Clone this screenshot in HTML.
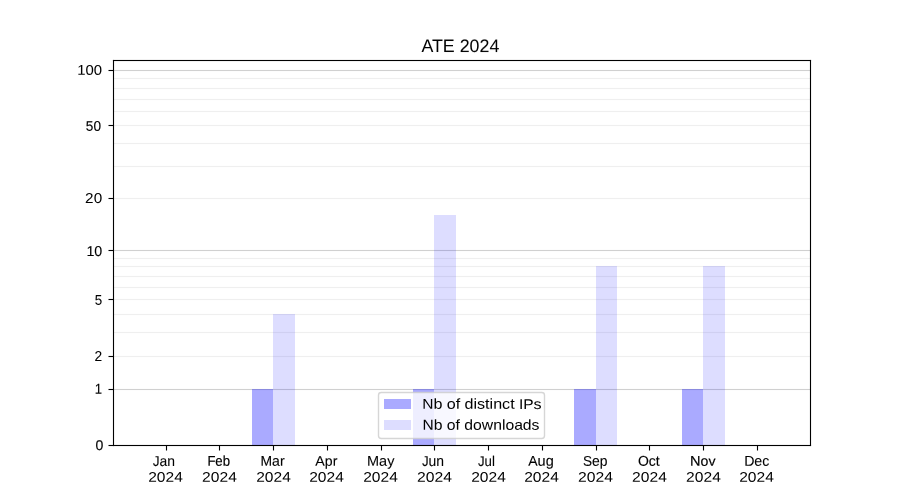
<!DOCTYPE html>
<html><head><meta charset="utf-8"><title>ATE 2024</title><style>
html,body{margin:0;padding:0;background:#fff;width:900px;height:500px;overflow:hidden}
svg{display:block}
text{font-family:"Liberation Sans",sans-serif;fill:#000}
.t{filter:grayscale(1);text-rendering:geometricPrecision}
.t text{stroke:#000}
</style></head><body>
<svg width="900" height="500" viewBox="0 0 900 500">
<rect width="900" height="500" fill="#fff"/>
<g shape-rendering="crispEdges" fill="#b0b0b0">
<rect x="113" y="70" width="698" height="1" fill-opacity="0.6"/><rect x="113" y="69" width="698" height="1" fill-opacity="0.033"/><rect x="113" y="71" width="698" height="1" fill-opacity="0.033"/>
<rect x="113" y="250" width="698" height="1" fill-opacity="0.6"/><rect x="113" y="249" width="698" height="1" fill-opacity="0.033"/><rect x="113" y="251" width="698" height="1" fill-opacity="0.033"/>
<rect x="113" y="389" width="698" height="1" fill-opacity="0.6"/><rect x="113" y="388" width="698" height="1" fill-opacity="0.033"/><rect x="113" y="390" width="698" height="1" fill-opacity="0.033"/>
<rect x="113" y="78" width="698" height="1" fill-opacity="0.2"/><rect x="113" y="77" width="698" height="1" fill-opacity="0.011"/><rect x="113" y="79" width="698" height="1" fill-opacity="0.011"/>
<rect x="113" y="88" width="698" height="1" fill-opacity="0.2"/><rect x="113" y="87" width="698" height="1" fill-opacity="0.011"/><rect x="113" y="89" width="698" height="1" fill-opacity="0.011"/>
<rect x="113" y="99" width="698" height="1" fill-opacity="0.2"/><rect x="113" y="98" width="698" height="1" fill-opacity="0.011"/><rect x="113" y="100" width="698" height="1" fill-opacity="0.011"/>
<rect x="113" y="111" width="698" height="1" fill-opacity="0.2"/><rect x="113" y="110" width="698" height="1" fill-opacity="0.011"/><rect x="113" y="112" width="698" height="1" fill-opacity="0.011"/>
<rect x="113" y="125" width="698" height="1" fill-opacity="0.2"/><rect x="113" y="124" width="698" height="1" fill-opacity="0.011"/><rect x="113" y="126" width="698" height="1" fill-opacity="0.011"/>
<rect x="113" y="143" width="698" height="1" fill-opacity="0.2"/><rect x="113" y="142" width="698" height="1" fill-opacity="0.011"/><rect x="113" y="144" width="698" height="1" fill-opacity="0.011"/>
<rect x="113" y="166" width="698" height="1" fill-opacity="0.2"/><rect x="113" y="165" width="698" height="1" fill-opacity="0.011"/><rect x="113" y="167" width="698" height="1" fill-opacity="0.011"/>
<rect x="113" y="198" width="698" height="1" fill-opacity="0.2"/><rect x="113" y="197" width="698" height="1" fill-opacity="0.011"/><rect x="113" y="199" width="698" height="1" fill-opacity="0.011"/>
<rect x="113" y="258" width="698" height="1" fill-opacity="0.2"/><rect x="113" y="257" width="698" height="1" fill-opacity="0.011"/><rect x="113" y="259" width="698" height="1" fill-opacity="0.011"/>
<rect x="113" y="266" width="698" height="1" fill-opacity="0.2"/><rect x="113" y="265" width="698" height="1" fill-opacity="0.011"/><rect x="113" y="267" width="698" height="1" fill-opacity="0.011"/>
<rect x="113" y="276" width="698" height="1" fill-opacity="0.2"/><rect x="113" y="275" width="698" height="1" fill-opacity="0.011"/><rect x="113" y="277" width="698" height="1" fill-opacity="0.011"/>
<rect x="113" y="287" width="698" height="1" fill-opacity="0.2"/><rect x="113" y="286" width="698" height="1" fill-opacity="0.011"/><rect x="113" y="288" width="698" height="1" fill-opacity="0.011"/>
<rect x="113" y="299" width="698" height="1" fill-opacity="0.2"/><rect x="113" y="298" width="698" height="1" fill-opacity="0.011"/><rect x="113" y="300" width="698" height="1" fill-opacity="0.011"/>
<rect x="113" y="314" width="698" height="1" fill-opacity="0.2"/><rect x="113" y="313" width="698" height="1" fill-opacity="0.011"/><rect x="113" y="315" width="698" height="1" fill-opacity="0.011"/>
<rect x="113" y="332" width="698" height="1" fill-opacity="0.2"/><rect x="113" y="331" width="698" height="1" fill-opacity="0.011"/><rect x="113" y="333" width="698" height="1" fill-opacity="0.011"/>
<rect x="113" y="356" width="698" height="1" fill-opacity="0.2"/><rect x="113" y="355" width="698" height="1" fill-opacity="0.011"/><rect x="113" y="357" width="698" height="1" fill-opacity="0.011"/>
</g>
<g shape-rendering="crispEdges" fill="#00f">
<rect x="252" y="389" width="21" height="56" fill-opacity="0.3333"/>
<rect x="273" y="314" width="22" height="131" fill-opacity="0.1333"/>
<rect x="413" y="389" width="21" height="56" fill-opacity="0.3333"/>
<rect x="434" y="215" width="22" height="230" fill-opacity="0.1333"/>
<rect x="574" y="389" width="22" height="56" fill-opacity="0.3333"/>
<rect x="596" y="266" width="21" height="179" fill-opacity="0.1333"/>
<rect x="682" y="389" width="21" height="56" fill-opacity="0.3333"/>
<rect x="703" y="266" width="22" height="179" fill-opacity="0.1333"/>
</g>
<g shape-rendering="crispEdges" fill="#000">
<rect x="112" y="59" width="1" height="1" fill-opacity="0.008"/><rect x="113" y="59" width="1" height="1" fill-opacity="0.106"/><rect x="114" y="59" width="1" height="1" fill-opacity="0.059"/><rect x="115" y="59" width="694" height="1" fill-opacity="0.055"/><rect x="809" y="59" width="1" height="1" fill-opacity="0.059"/><rect x="810" y="59" width="1" height="1" fill-opacity="0.106"/><rect x="811" y="59" width="1" height="1" fill-opacity="0.008"/><rect x="112" y="60" width="1" height="1" fill-opacity="0.106"/><rect x="113" y="60" width="698" height="1"/><rect x="811" y="60" width="1" height="1" fill-opacity="0.106"/><rect x="112" y="61" width="1" height="1" fill-opacity="0.059"/><rect x="114" y="61" width="1" height="1" fill-opacity="0.106"/><rect x="115" y="61" width="694" height="1" fill-opacity="0.055"/><rect x="809" y="61" width="1" height="1" fill-opacity="0.106"/><rect x="811" y="61" width="1" height="1" fill-opacity="0.059"/><rect x="112" y="62" width="1" height="7" fill-opacity="0.055"/><rect x="108" y="69" width="1" height="1" fill-opacity="0.027"/><rect x="109" y="69" width="3" height="1" fill-opacity="0.055"/><rect x="112" y="69" width="1" height="1" fill-opacity="0.106"/><rect x="113" y="61" width="1" height="9"/><rect x="108" y="70" width="1" height="1" fill-opacity="0.502"/><rect x="109" y="70" width="5" height="1"/><rect x="108" y="71" width="1" height="1" fill-opacity="0.027"/><rect x="109" y="71" width="3" height="1" fill-opacity="0.055"/><rect x="112" y="71" width="1" height="1" fill-opacity="0.106"/><rect x="112" y="72" width="1" height="52" fill-opacity="0.055"/><rect x="108" y="124" width="1" height="1" fill-opacity="0.027"/><rect x="109" y="124" width="3" height="1" fill-opacity="0.055"/><rect x="112" y="124" width="1" height="1" fill-opacity="0.106"/><rect x="113" y="71" width="1" height="54"/><rect x="108" y="125" width="1" height="1" fill-opacity="0.502"/><rect x="109" y="125" width="5" height="1"/><rect x="108" y="126" width="1" height="1" fill-opacity="0.027"/><rect x="109" y="126" width="3" height="1" fill-opacity="0.055"/><rect x="112" y="126" width="1" height="1" fill-opacity="0.106"/><rect x="112" y="127" width="1" height="70" fill-opacity="0.055"/><rect x="108" y="197" width="1" height="1" fill-opacity="0.027"/><rect x="109" y="197" width="3" height="1" fill-opacity="0.055"/><rect x="112" y="197" width="1" height="1" fill-opacity="0.106"/><rect x="113" y="126" width="1" height="72"/><rect x="108" y="198" width="1" height="1" fill-opacity="0.502"/><rect x="109" y="198" width="5" height="1"/><rect x="108" y="199" width="1" height="1" fill-opacity="0.027"/><rect x="109" y="199" width="3" height="1" fill-opacity="0.055"/><rect x="112" y="199" width="1" height="1" fill-opacity="0.106"/><rect x="112" y="200" width="1" height="49" fill-opacity="0.055"/><rect x="108" y="249" width="1" height="1" fill-opacity="0.027"/><rect x="109" y="249" width="3" height="1" fill-opacity="0.055"/><rect x="112" y="249" width="1" height="1" fill-opacity="0.106"/><rect x="113" y="199" width="1" height="51"/><rect x="108" y="250" width="1" height="1" fill-opacity="0.502"/><rect x="109" y="250" width="5" height="1"/><rect x="108" y="251" width="1" height="1" fill-opacity="0.027"/><rect x="109" y="251" width="3" height="1" fill-opacity="0.055"/><rect x="112" y="251" width="1" height="1" fill-opacity="0.106"/><rect x="112" y="252" width="1" height="46" fill-opacity="0.055"/><rect x="108" y="298" width="1" height="1" fill-opacity="0.027"/><rect x="109" y="298" width="3" height="1" fill-opacity="0.055"/><rect x="112" y="298" width="1" height="1" fill-opacity="0.106"/><rect x="113" y="251" width="1" height="48"/><rect x="108" y="299" width="1" height="1" fill-opacity="0.502"/><rect x="109" y="299" width="5" height="1"/><rect x="108" y="300" width="1" height="1" fill-opacity="0.027"/><rect x="109" y="300" width="3" height="1" fill-opacity="0.055"/><rect x="112" y="300" width="1" height="1" fill-opacity="0.106"/><rect x="112" y="301" width="1" height="54" fill-opacity="0.055"/><rect x="108" y="355" width="1" height="1" fill-opacity="0.027"/><rect x="109" y="355" width="3" height="1" fill-opacity="0.055"/><rect x="112" y="355" width="1" height="1" fill-opacity="0.106"/><rect x="113" y="300" width="1" height="56"/><rect x="108" y="356" width="1" height="1" fill-opacity="0.502"/><rect x="109" y="356" width="5" height="1"/><rect x="108" y="357" width="1" height="1" fill-opacity="0.027"/><rect x="109" y="357" width="3" height="1" fill-opacity="0.055"/><rect x="112" y="357" width="1" height="1" fill-opacity="0.106"/><rect x="112" y="358" width="1" height="30" fill-opacity="0.055"/><rect x="108" y="388" width="1" height="1" fill-opacity="0.027"/><rect x="109" y="388" width="3" height="1" fill-opacity="0.055"/><rect x="112" y="388" width="1" height="1" fill-opacity="0.106"/><rect x="113" y="357" width="1" height="32"/><rect x="108" y="389" width="1" height="1" fill-opacity="0.502"/><rect x="109" y="389" width="5" height="1"/><rect x="108" y="390" width="1" height="1" fill-opacity="0.027"/><rect x="109" y="390" width="3" height="1" fill-opacity="0.055"/><rect x="112" y="390" width="1" height="1" fill-opacity="0.106"/><rect x="112" y="391" width="1" height="53" fill-opacity="0.055"/><rect x="114" y="62" width="1" height="382" fill-opacity="0.055"/><rect x="809" y="62" width="1" height="382" fill-opacity="0.055"/><rect x="811" y="62" width="1" height="382" fill-opacity="0.055"/><rect x="108" y="444" width="1" height="1" fill-opacity="0.027"/><rect x="109" y="444" width="3" height="1" fill-opacity="0.055"/><rect x="112" y="444" width="1" height="1" fill-opacity="0.110"/><rect x="113" y="390" width="1" height="55"/><rect x="114" y="444" width="1" height="1" fill-opacity="0.106"/><rect x="115" y="444" width="694" height="1" fill-opacity="0.055"/><rect x="809" y="444" width="1" height="1" fill-opacity="0.106"/><rect x="810" y="61" width="1" height="384"/><rect x="811" y="444" width="1" height="1" fill-opacity="0.059"/><rect x="108" y="445" width="1" height="1" fill-opacity="0.502"/><rect x="109" y="445" width="702" height="1"/><rect x="811" y="445" width="1" height="1" fill-opacity="0.106"/><rect x="108" y="446" width="1" height="1" fill-opacity="0.027"/><rect x="109" y="446" width="3" height="1" fill-opacity="0.055"/><rect x="112" y="446" width="1" height="1" fill-opacity="0.059"/><rect x="113" y="446" width="1" height="1" fill-opacity="0.133"/><rect x="114" y="446" width="1" height="1" fill-opacity="0.059"/><rect x="115" y="446" width="50" height="1" fill-opacity="0.055"/><rect x="165" y="446" width="1" height="1" fill-opacity="0.106"/><rect x="167" y="446" width="1" height="1" fill-opacity="0.106"/><rect x="168" y="446" width="50" height="1" fill-opacity="0.055"/><rect x="218" y="446" width="1" height="1" fill-opacity="0.106"/><rect x="220" y="446" width="1" height="1" fill-opacity="0.106"/><rect x="221" y="446" width="51" height="1" fill-opacity="0.055"/><rect x="272" y="446" width="1" height="1" fill-opacity="0.106"/><rect x="274" y="446" width="1" height="1" fill-opacity="0.106"/><rect x="275" y="446" width="51" height="1" fill-opacity="0.055"/><rect x="326" y="446" width="1" height="1" fill-opacity="0.106"/><rect x="328" y="446" width="1" height="1" fill-opacity="0.106"/><rect x="329" y="446" width="51" height="1" fill-opacity="0.055"/><rect x="380" y="446" width="1" height="1" fill-opacity="0.106"/><rect x="382" y="446" width="1" height="1" fill-opacity="0.106"/><rect x="383" y="446" width="50" height="1" fill-opacity="0.055"/><rect x="433" y="446" width="1" height="1" fill-opacity="0.106"/><rect x="435" y="446" width="1" height="1" fill-opacity="0.106"/><rect x="436" y="446" width="51" height="1" fill-opacity="0.055"/><rect x="487" y="446" width="1" height="1" fill-opacity="0.106"/><rect x="489" y="446" width="1" height="1" fill-opacity="0.106"/><rect x="490" y="446" width="51" height="1" fill-opacity="0.055"/><rect x="541" y="446" width="1" height="1" fill-opacity="0.106"/><rect x="543" y="446" width="1" height="1" fill-opacity="0.106"/><rect x="544" y="446" width="51" height="1" fill-opacity="0.055"/><rect x="595" y="446" width="1" height="1" fill-opacity="0.106"/><rect x="597" y="446" width="1" height="1" fill-opacity="0.106"/><rect x="598" y="446" width="50" height="1" fill-opacity="0.055"/><rect x="648" y="446" width="1" height="1" fill-opacity="0.106"/><rect x="650" y="446" width="1" height="1" fill-opacity="0.106"/><rect x="651" y="446" width="51" height="1" fill-opacity="0.055"/><rect x="702" y="446" width="1" height="1" fill-opacity="0.106"/><rect x="704" y="446" width="1" height="1" fill-opacity="0.106"/><rect x="705" y="446" width="51" height="1" fill-opacity="0.055"/><rect x="756" y="446" width="1" height="1" fill-opacity="0.106"/><rect x="758" y="446" width="1" height="1" fill-opacity="0.106"/><rect x="759" y="446" width="50" height="1" fill-opacity="0.055"/><rect x="809" y="446" width="1" height="1" fill-opacity="0.059"/><rect x="810" y="446" width="1" height="1" fill-opacity="0.106"/><rect x="811" y="446" width="1" height="1" fill-opacity="0.008"/><rect x="165" y="447" width="1" height="3" fill-opacity="0.055"/><rect x="166" y="446" width="1" height="4"/><rect x="167" y="447" width="1" height="3" fill-opacity="0.055"/><rect x="218" y="447" width="1" height="3" fill-opacity="0.055"/><rect x="219" y="446" width="1" height="4"/><rect x="220" y="447" width="1" height="3" fill-opacity="0.055"/><rect x="272" y="447" width="1" height="3" fill-opacity="0.055"/><rect x="273" y="446" width="1" height="4"/><rect x="274" y="447" width="1" height="3" fill-opacity="0.055"/><rect x="326" y="447" width="1" height="3" fill-opacity="0.055"/><rect x="327" y="446" width="1" height="4"/><rect x="328" y="447" width="1" height="3" fill-opacity="0.055"/><rect x="380" y="447" width="1" height="3" fill-opacity="0.055"/><rect x="381" y="446" width="1" height="4"/><rect x="382" y="447" width="1" height="3" fill-opacity="0.055"/><rect x="433" y="447" width="1" height="3" fill-opacity="0.055"/><rect x="434" y="446" width="1" height="4"/><rect x="435" y="447" width="1" height="3" fill-opacity="0.055"/><rect x="487" y="447" width="1" height="3" fill-opacity="0.055"/><rect x="488" y="446" width="1" height="4"/><rect x="489" y="447" width="1" height="3" fill-opacity="0.055"/><rect x="541" y="447" width="1" height="3" fill-opacity="0.055"/><rect x="542" y="446" width="1" height="4"/><rect x="543" y="447" width="1" height="3" fill-opacity="0.055"/><rect x="595" y="447" width="1" height="3" fill-opacity="0.055"/><rect x="596" y="446" width="1" height="4"/><rect x="597" y="447" width="1" height="3" fill-opacity="0.055"/><rect x="648" y="447" width="1" height="3" fill-opacity="0.055"/><rect x="649" y="446" width="1" height="4"/><rect x="650" y="447" width="1" height="3" fill-opacity="0.055"/><rect x="702" y="447" width="1" height="3" fill-opacity="0.055"/><rect x="703" y="446" width="1" height="4"/><rect x="704" y="447" width="1" height="3" fill-opacity="0.055"/><rect x="756" y="447" width="1" height="3" fill-opacity="0.055"/><rect x="757" y="446" width="1" height="4"/><rect x="758" y="447" width="1" height="3" fill-opacity="0.055"/><rect x="165" y="450" width="1" height="1" fill-opacity="0.027"/><rect x="166" y="450" width="1" height="1" fill-opacity="0.502"/><rect x="167" y="450" width="1" height="1" fill-opacity="0.027"/><rect x="218" y="450" width="1" height="1" fill-opacity="0.027"/><rect x="219" y="450" width="1" height="1" fill-opacity="0.502"/><rect x="220" y="450" width="1" height="1" fill-opacity="0.027"/><rect x="272" y="450" width="1" height="1" fill-opacity="0.027"/><rect x="273" y="450" width="1" height="1" fill-opacity="0.502"/><rect x="274" y="450" width="1" height="1" fill-opacity="0.027"/><rect x="326" y="450" width="1" height="1" fill-opacity="0.027"/><rect x="327" y="450" width="1" height="1" fill-opacity="0.502"/><rect x="328" y="450" width="1" height="1" fill-opacity="0.027"/><rect x="380" y="450" width="1" height="1" fill-opacity="0.027"/><rect x="381" y="450" width="1" height="1" fill-opacity="0.502"/><rect x="382" y="450" width="1" height="1" fill-opacity="0.027"/><rect x="433" y="450" width="1" height="1" fill-opacity="0.027"/><rect x="434" y="450" width="1" height="1" fill-opacity="0.502"/><rect x="435" y="450" width="1" height="1" fill-opacity="0.027"/><rect x="487" y="450" width="1" height="1" fill-opacity="0.027"/><rect x="488" y="450" width="1" height="1" fill-opacity="0.502"/><rect x="489" y="450" width="1" height="1" fill-opacity="0.027"/><rect x="541" y="450" width="1" height="1" fill-opacity="0.027"/><rect x="542" y="450" width="1" height="1" fill-opacity="0.502"/><rect x="543" y="450" width="1" height="1" fill-opacity="0.027"/><rect x="595" y="450" width="1" height="1" fill-opacity="0.027"/><rect x="596" y="450" width="1" height="1" fill-opacity="0.502"/><rect x="597" y="450" width="1" height="1" fill-opacity="0.027"/><rect x="648" y="450" width="1" height="1" fill-opacity="0.027"/><rect x="649" y="450" width="1" height="1" fill-opacity="0.502"/><rect x="650" y="450" width="1" height="1" fill-opacity="0.027"/><rect x="702" y="450" width="1" height="1" fill-opacity="0.027"/><rect x="703" y="450" width="1" height="1" fill-opacity="0.502"/><rect x="704" y="450" width="1" height="1" fill-opacity="0.027"/><rect x="756" y="450" width="1" height="1" fill-opacity="0.027"/><rect x="757" y="450" width="1" height="1" fill-opacity="0.502"/><rect x="758" y="450" width="1" height="1" fill-opacity="0.027"/>
</g>
<rect x="378.5" y="392.5" width="166" height="46" rx="2.8" ry="2.8" fill="#fff" fill-opacity="0.8" stroke="#ccc" stroke-opacity="0.8" stroke-width="1.39"/>
<rect x="384" y="399" width="27" height="10" fill="#00f" fill-opacity="0.3333" shape-rendering="crispEdges"/>
<rect x="384" y="420" width="27" height="10" fill="#00f" fill-opacity="0.1333" shape-rendering="crispEdges"/>
<g class="t">
<text x="421.39" y="51.69" font-size="18.08" text-anchor="start" textLength="78.02" lengthAdjust="spacingAndGlyphs" transform="rotate(0.05 421.39 51.94)" stroke-width="0.009">ATE 2024</text>
<text x="77.23" y="74.84" font-size="14.06" text-anchor="start" textLength="24.79" lengthAdjust="spacingAndGlyphs" transform="rotate(0.05 77.23 75.09)" stroke-width="0.046">100</text>
<text x="85.86" y="130.74" font-size="14.01" text-anchor="start" textLength="15.15" lengthAdjust="spacingAndGlyphs" transform="rotate(0.05 85.86 130.99)" stroke-width="0.145">50</text>
<text x="85.13" y="202.93" font-size="14.41" text-anchor="start" textLength="17.02" lengthAdjust="spacingAndGlyphs" transform="rotate(0.05 85.13 203.18)" stroke-width="0.012">20</text>
<text x="86.45" y="255.88" font-size="14.29" text-anchor="start" textLength="15.88" lengthAdjust="spacingAndGlyphs" transform="rotate(0.05 86.45 256.13)" stroke-width="0.112">10</text>
<text x="94.70" y="304.72" font-size="14.09" text-anchor="start" textLength="7.46" lengthAdjust="spacingAndGlyphs" transform="rotate(0.05 94.70 304.97)" stroke-width="0.085">5</text>
<text x="94.51" y="360.98" font-size="14.34" text-anchor="start" textLength="7.65" lengthAdjust="spacingAndGlyphs" transform="rotate(0.05 94.51 361.23)" stroke-width="0.076">2</text>
<text x="94.66" y="393.70" font-size="14.34" text-anchor="start" textLength="7.29" lengthAdjust="spacingAndGlyphs" transform="rotate(0.05 94.66 393.95)" stroke-width="0.156">1</text>
<text x="95.47" y="449.93" font-size="14.15" text-anchor="start" textLength="7.84" lengthAdjust="spacingAndGlyphs" transform="rotate(0.05 95.47 450.18)" stroke-width="0.160">0</text>
<text x="152.64" y="466.12" font-size="14.26" text-anchor="start" textLength="22.33" lengthAdjust="spacingAndGlyphs" transform="rotate(0.05 152.64 466.37)" stroke-width="0.068">J<tspan font-size="14.47">an</tspan></text>
<text x="148.21" y="481.85" font-size="14.04" text-anchor="start" textLength="34.58" lengthAdjust="spacingAndGlyphs" transform="rotate(0.05 148.21 482.10)" stroke-width="0.014">2024</text>
<text x="207.39" y="465.79" font-size="14.15" text-anchor="start" textLength="22.60" lengthAdjust="spacingAndGlyphs" transform="rotate(0.05 207.39 466.04)" stroke-width="0.206">F<tspan font-size="14.32">eb</tspan></text>
<text x="202.13" y="481.84" font-size="14.01" text-anchor="start" textLength="34.69" lengthAdjust="spacingAndGlyphs" transform="rotate(0.05 202.13 482.09)" stroke-width="0.012">2024</text>
<text x="260.55" y="465.66" font-size="14.07" text-anchor="start" textLength="24.06" lengthAdjust="spacingAndGlyphs" transform="rotate(0.05 260.55 465.91)" stroke-width="0.127">M<tspan font-size="14.22">ar</tspan></text>
<text x="256.21" y="481.65" font-size="14.04" text-anchor="start" textLength="34.58" lengthAdjust="spacingAndGlyphs" transform="rotate(0.05 256.21 481.90)" stroke-width="0.014">2024</text>
<text x="315.36" y="465.74" font-size="14.01" text-anchor="start" textLength="22.03" lengthAdjust="spacingAndGlyphs" transform="rotate(0.05 315.36 465.99)" stroke-width="0.097">A<tspan font-size="13.91">pr</tspan></text>
<text x="309.21" y="481.65" font-size="14.04" text-anchor="start" textLength="34.58" lengthAdjust="spacingAndGlyphs" transform="rotate(0.05 309.21 481.90)" stroke-width="0.014">2024</text>
<text x="366.99" y="465.70" font-size="14.23" text-anchor="start" textLength="27.41" lengthAdjust="spacingAndGlyphs" transform="rotate(0.05 366.99 465.95)" stroke-width="0.100">May</text>
<text x="363.21" y="481.65" font-size="14.04" text-anchor="start" textLength="34.58" lengthAdjust="spacingAndGlyphs" transform="rotate(0.05 363.21 481.90)" stroke-width="0.014">2024</text>
<text x="421.95" y="466.01" font-size="14.24" text-anchor="start" textLength="22.15" lengthAdjust="spacingAndGlyphs" transform="rotate(0.05 421.95 466.26)" stroke-width="0.086">J<tspan font-size="14.91">un</tspan></text>
<text x="416.98" y="481.69" font-size="14.04" text-anchor="start" textLength="34.90" lengthAdjust="spacingAndGlyphs" transform="rotate(0.05 416.98 481.94)" stroke-width="0.012">2024</text>
<text x="477.94" y="465.99" font-size="14.01" text-anchor="start" textLength="16.90" lengthAdjust="spacingAndGlyphs" transform="rotate(0.05 477.94 466.24)" stroke-width="0.087">Jul</text>
<text x="471.21" y="481.80" font-size="14.04" text-anchor="start" textLength="34.58" lengthAdjust="spacingAndGlyphs" transform="rotate(0.05 471.21 482.05)" stroke-width="0.014">2024</text>
<text x="528.23" y="465.76" font-size="14.29" text-anchor="start" textLength="25.52" lengthAdjust="spacingAndGlyphs" transform="rotate(0.05 528.23 466.01)" stroke-width="0.099">A<tspan font-size="14.79">ug</tspan></text>
<text x="524.21" y="481.80" font-size="14.04" text-anchor="start" textLength="34.58" lengthAdjust="spacingAndGlyphs" transform="rotate(0.05 524.21 482.05)" stroke-width="0.014">2024</text>
<text x="582.98" y="465.84" font-size="14.03" text-anchor="start" textLength="24.58" lengthAdjust="spacingAndGlyphs" transform="rotate(0.05 582.98 466.09)" stroke-width="0.127">S<tspan font-size="14.30">ep</tspan></text>
<text x="577.99" y="481.84" font-size="14.04" text-anchor="start" textLength="34.90" lengthAdjust="spacingAndGlyphs" transform="rotate(0.05 577.99 482.09)" stroke-width="0.002">2024</text>
<text x="638.00" y="465.74" font-size="14.15" text-anchor="start" textLength="21.72" lengthAdjust="spacingAndGlyphs" transform="rotate(0.05 638.00 465.99)" stroke-width="0.147">Oct</text>
<text x="632.13" y="481.84" font-size="14.01" text-anchor="start" textLength="34.69" lengthAdjust="spacingAndGlyphs" transform="rotate(0.05 632.13 482.09)" stroke-width="0.012">2024</text>
<text x="690.01" y="465.74" font-size="14.17" text-anchor="start" textLength="25.45" lengthAdjust="spacingAndGlyphs" transform="rotate(0.05 690.01 465.99)" stroke-width="0.178">N<tspan font-size="13.78">ov</tspan></text>
<text x="686.13" y="481.69" font-size="14.01" text-anchor="start" textLength="34.69" lengthAdjust="spacingAndGlyphs" transform="rotate(0.05 686.13 481.94)" stroke-width="0.012">2024</text>
<text x="744.14" y="465.71" font-size="14.29" text-anchor="start" textLength="25.23" lengthAdjust="spacingAndGlyphs" transform="rotate(0.05 744.14 465.96)" stroke-width="0.089">Dec</text>
<text x="739.19" y="481.84" font-size="14.04" text-anchor="start" textLength="34.62" lengthAdjust="spacingAndGlyphs" transform="rotate(0.05 739.19 482.09)" stroke-width="0.011">2024</text>
<text x="422.33" y="408.80" font-size="14.05" text-anchor="start" textLength="119.35" lengthAdjust="spacingAndGlyphs" transform="rotate(0.05 422.33 409.05)" stroke-width="0.013">N<tspan font-size="14.56">b</tspan> <tspan font-size="14.56">of</tspan> <tspan font-size="14.56">distinct</tspan> IP<tspan font-size="14.56">s</tspan></text>
<text x="422.57" y="429.75" font-size="14.35" text-anchor="start" textLength="116.91" lengthAdjust="spacingAndGlyphs" transform="rotate(0.05 422.57 430.00)" stroke-width="0.018">N<tspan font-size="14.52">b</tspan> <tspan font-size="14.52">of</tspan> <tspan font-size="14.52">downloads</tspan></text>
</g>
</svg>
</body></html>
